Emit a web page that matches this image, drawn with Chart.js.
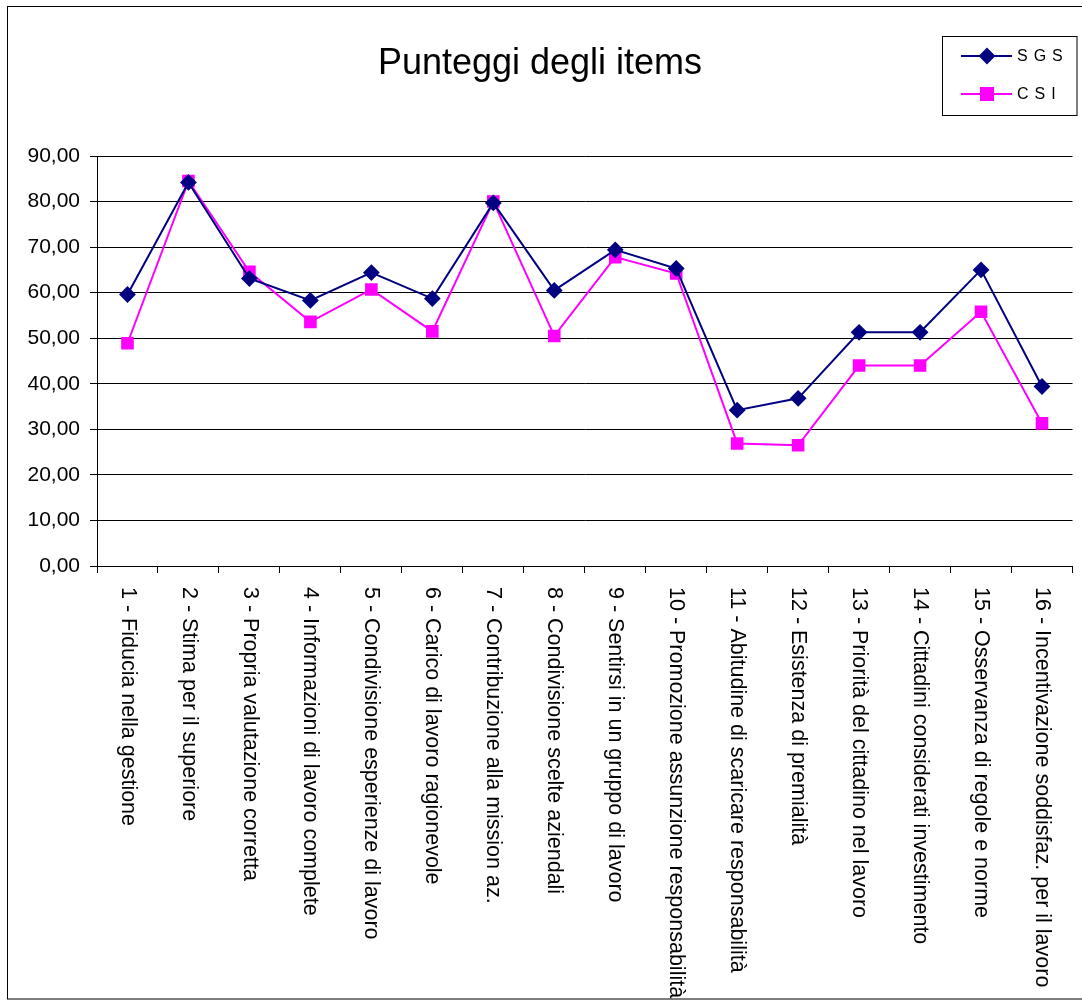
<!DOCTYPE html>
<html>
<head>
<meta charset="utf-8">
<script src="https://cdn.jsdelivr.net/npm/chart.js@4/dist/chart.umd.min.js"></script>
<style>
    html, body { margin: 0; padding: 0; background: #fff; }
    #wrap { position: relative; width: 1082px; height: 1001px; }
</style>
</head>
<body>
<div id="wrap"><canvas id="chart"></canvas></div>
<script>
// Dati
const titolo = 'Punteggi degli items';
const items = [
    '1 - Fiducia nella gestione',
    '2 - Stima per il superiore',
    '3 - Propria valutazione corretta',
    '4 - Informazioni di lavoro complete',
    '5 - Condivisione esperienze di lavoro',
    '6 - Carico di lavoro ragionevole',
    '7 - Contribuzione alla mission az.',
    '8 - Condivisione scelte aziendali',
    '9 - Sentirsi in un gruppo di lavoro',
    '10 - Promozione assunzione responsabilità',
    '11 - Abitudine di scaricare responsabilità',
    '12 - Esistenza di premialità',
    '13 - Priorità del cittadino nel lavoro',
    '14 - Cittadini considerati investimento',
    '15 - Osservanza di regole e norme',
    '16 - Incentivazione soddisfaz. per il lavoro'
];
const sgs = [59.6, 84.2, 63.1, 58.3, 64.4, 58.7, 79.7, 60.5, 69.4, 65.3, 34.2, 36.8, 51.3, 51.3, 65.0, 39.4];
const csi = [48.9, 84.5, 64.6, 53.6, 60.7, 51.5, 80.0, 50.5, 67.8, 64.2, 26.9, 26.5, 44.0, 44.0, 55.8, 31.3];
const yMin = 0, yMax = 90, yStep = 10;

const FONT = '"Liberation Sans", Arial, sans-serif';

// Cornice, titolo, legenda ed etichette verticali
const decorPlugin = {
    id: 'decor',
    beforeDraw(chart) {
        const ctx = chart.ctx;
        ctx.save();
        ctx.strokeStyle = '#000';
        ctx.lineWidth = 1;
        ctx.strokeRect(7.5, 6.5, 1100, 992.5);
        ctx.restore();
    },
    afterDraw(chart) {
        const ctx = chart.ctx;
        ctx.save();

        // titolo
        ctx.fillStyle = '#000';
        ctx.font = '36px ' + FONT;
        ctx.textAlign = 'center';
        ctx.textBaseline = 'alphabetic';
        ctx.fillText(titolo, 540, 74);

        // etichette asse x (ruotate in senso orario)
        const xs = chart.scales.x;
        ctx.font = '21.5px ' + FONT;
        ctx.textAlign = 'left';
        ctx.textBaseline = 'middle';
        items.forEach((lab, i) => {
            const x = xs.getPixelForTick(i);
            ctx.save();
            ctx.translate(x, xs.top + 21);
            ctx.rotate(Math.PI / 2);
            ctx.fillText(lab, 0, 0);
            ctx.restore();
        });

        // legenda
        ctx.strokeStyle = '#000';
        ctx.lineWidth = 1;
        ctx.strokeRect(942.5, 36.5, 134.5, 79);
        ctx.font = '16px ' + FONT;
        ctx.textBaseline = 'middle';
        ctx.letterSpacing = '6px';
        const rows = [56, 94];
        const sizes = [7, 8.5];
        chart.data.datasets.forEach((ds, i) => {
            const y = rows[i];
            ctx.strokeStyle = ds.borderColor;
            ctx.lineWidth = ds.borderWidth;
            ctx.beginPath();
            ctx.moveTo(961, y);
            ctx.lineTo(1012, y);
            ctx.stroke();
            Chart.helpers.drawPoint(ctx, {
                pointStyle: ds.pointStyle,
                radius: sizes[i],
                borderWidth: 1
            }, 987, y);
            ctx.fillStyle = ds.backgroundColor;
            ctx.fill();
            ctx.fillStyle = '#000';
            ctx.fillText(ds.label, 1017, y + 1);
        });
        ctx.restore();
    }
};

const ctx = document.getElementById('chart').getContext('2d');
const chart = new Chart(ctx, {
    type: 'line',
    data: {
        labels: items,
        datasets: [{
            label: 'SGS',
            data: sgs,
            borderColor: '#000080',
            backgroundColor: '#000080',
            pointBackgroundColor: '#000080',
            pointBorderColor: '#000080',
            pointStyle: 'rectRot',
            pointRadius: 7,
            borderWidth: 2,
            tension: 0
        }, {
            label: 'CSI',
            data: csi,
            borderColor: '#FF00FF',
            backgroundColor: '#FF00FF',
            pointBackgroundColor: '#FF00FF',
            pointBorderColor: '#FF00FF',
            pointStyle: 'rect',
            pointRadius: 7.5,
            borderWidth: 2,
            tension: 0
        }]
    },
    options: {
        responsive: true,
        maintainAspectRatio: false,
        animation: false,
        layout: { padding: { left: 0, top: 156, right: 1, bottom: 0 } },
        plugins: {
            legend: { display: false },
            title: { display: false },
            tooltip: { enabled: false }
        },
        scales: {
            x: {
                type: 'category',
                offset: true,
                grid: {
                    offset: true,
                    drawOnChartArea: false,
                    drawTicks: true,
                    tickLength: 7,
                    color: '#000'
                },
                border: { display: true, color: '#000', width: 1 },
                ticks: { display: false },
                afterFit(scale) { scale.height = 435; }
            },
            y: {
                min: yMin,
                max: yMax,
                grid: { color: '#000', lineWidth: 1, tickLength: 7 },
                border: { display: true, color: '#000', width: 1 },
                ticks: {
                    stepSize: yStep,
                    padding: 10,
                    color: '#000',
                    font: { family: FONT, size: 21 },
                    callback: v => v.toFixed(2).replace('.', ',')
                },
                afterFit(scale) { scale.width = 97; }
            }
        }
    },
    plugins: [decorPlugin]
});
</script>
</body>
</html>
